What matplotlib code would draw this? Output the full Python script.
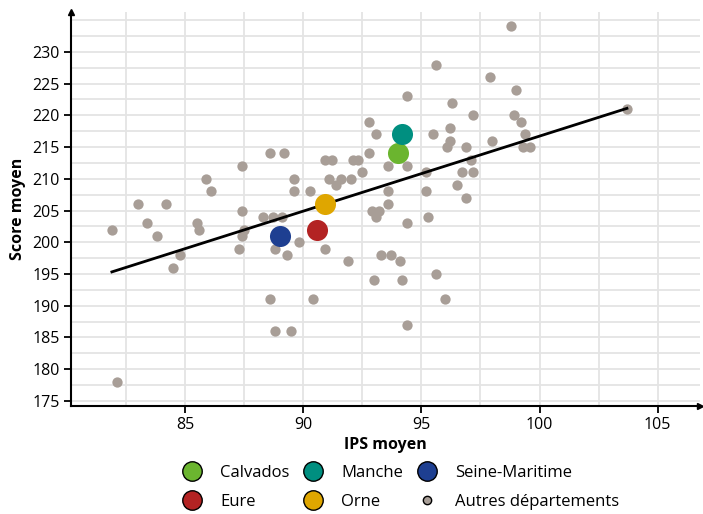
import matplotlib.pyplot as plt
import numpy as np

# Autres départements (IPS moyen, score moyen)
autres_ips = [81.9, 82.1, 83.0, 84.2, 83.4, 83.8, 84.5, 84.8, 85.5, 85.6,
              85.9, 86.1, 87.4, 87.4, 87.5, 87.4, 87.3, 88.3, 88.7, 89.1,
              88.6, 89.2, 88.8, 89.3, 88.6, 88.8, 89.5, 89.6, 89.6, 90.3,
              89.8, 90.4, 90.9, 90.9, 91.2, 91.1, 91.4, 91.6, 92.0, 92.1,
              92.3, 92.5, 91.9, 92.8, 93.1, 92.8, 93.6, 93.6, 93.6, 92.9,
              93.2, 93.1, 93.0, 93.3, 93.7, 94.1, 94.2, 94.4, 94.4, 95.3,
              95.6, 96.0, 94.4, 94.4, 95.2, 95.2, 95.6, 96.3, 97.9, 98.8,
              99.0, 97.2, 98.9, 99.2, 96.2, 95.5, 99.4, 96.2, 98.0, 96.1,
              96.9, 99.3, 99.6, 97.1, 96.7, 97.2, 96.5, 96.9, 103.7]
autres_score = [202, 178, 206, 206, 203, 201, 196, 198, 203, 202,
                210, 208, 212, 205, 202, 201, 199, 204, 204, 204,
                214, 214, 199, 198, 191, 186, 186, 210, 208, 208,
                200, 191, 199, 213, 213, 210, 209, 210, 210, 213,
                213, 211, 197, 219, 217, 214, 212, 208, 206, 205,
                205, 204, 194, 198, 198, 197, 194, 203, 187, 204,
                195, 191, 223, 212, 211, 208, 228, 222, 226, 234,
                224, 220, 220, 219, 218, 217, 217, 216, 216, 215,
                215, 215, 215, 213, 211, 211, 209, 207, 221]

# Départements de Normandie
dep_noms = ['Calvados', 'Eure', 'Manche', 'Orne', 'Seine-Maritime']
dep_ips = [94.0, 90.6, 94.2, 90.9, 89.0]
dep_score = [214, 202, 217, 206, 201]
dep_couleurs = ['#6bb52f', '#b32323', '#008f80', '#dfa600', '#1e3f91']

plt.rcParams['font.family'] = ['Open Sans', 'DejaVu Sans']

fig = plt.figure(figsize=(7.03, 5.14), dpi=100)
ax = fig.add_axes([0.101, 0.21, 0.895, 0.767])

ax.set_xlim(80.17, 106.8)
ax.set_ylim(174.2, 236.3)

ax.set_xticks(np.arange(85, 106, 5))
ax.set_xticks(np.arange(82.5, 106, 2.5), minor=True)
ax.set_yticks(np.arange(175, 231, 5))
ax.set_yticks(np.arange(175, 236, 2.5), minor=True)
ax.grid(True, which='both', color='#e4e4e4', lw=1.3)
ax.set_axisbelow(True)
ax.tick_params(which='minor', length=0)
ax.tick_params(which='major', length=5, width=1.3, labelsize=11.5, color='black', pad=3)

for s in ['top', 'right']:
    ax.spines[s].set_visible(False)
for s in ['left', 'bottom']:
    ax.spines[s].set_linewidth(1.5)
ax.plot(1, 0, '>k', ms=5, transform=ax.transAxes, clip_on=False)
ax.plot(0, 1, '^k', ms=5, transform=ax.transAxes, clip_on=False)

# droite de régression sur tous les départements
all_x = np.array(autres_ips + dep_ips)
all_y = np.array(autres_score + dep_score)
a, b = np.polyfit(all_x, all_y, 1)
xs = np.array([all_x.min(), all_x.max()])
ax.plot(xs, a * xs + b, color='black', lw=2, zorder=3)

ax.scatter(autres_ips, autres_score, s=55, color='#a89e97', lw=0, zorder=2)
handles = []
for nom, x, y, c in zip(dep_noms, dep_ips, dep_score, dep_couleurs):
    ax.scatter(x, y, s=230, color=c, lw=0, zorder=4)
    handles.append(plt.Line2D([], [], marker='o', ls='', ms=14, mfc=c, mec='black', mew=1, label=nom))
handles.append(plt.Line2D([], [], marker='o', ls='', ms=6, mfc='#a89e97', mec='black', mew=1,
                          label='Autres départements'))

ax.set_xlabel('IPS moyen', fontsize=11.5, fontweight='bold', labelpad=3)
ax.set_ylabel('Score moyen', fontsize=11.5, fontweight='bold', labelpad=5)

fig.legend(handles=handles, ncol=3, loc='center', bbox_to_anchor=(0.565, 0.052),
           frameon=False, fontsize=12, handletextpad=0.7, columnspacing=0.4,
           labelspacing=0.75)

fig.savefig('out.png', dpi=100)
